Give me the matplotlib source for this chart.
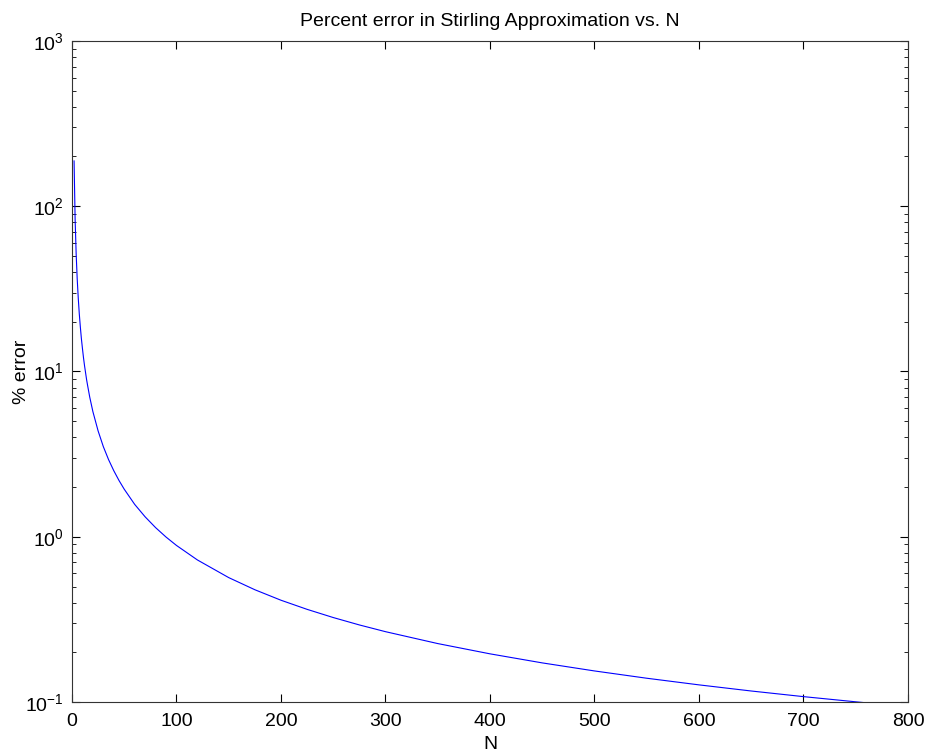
#!/usr/bin/env python3
"""Percent error of the Stirling approximation against N (log y axis)."""
import matplotlib
matplotlib.use("Agg")
import matplotlib.pyplot as plt
from matplotlib.ticker import LogLocator, NullFormatter

# values
N_VALUES = [2, 3, 4, 5, 6, 7, 8, 9, 10, 11, 12, 14, 15, 17, 20, 25, 30, 35,
            40, 45, 50, 60, 70, 80, 90, 100, 120, 150, 175, 200, 225, 250,
            275, 300, 350, 400, 450, 500, 550, 600, 650, 700, 750, 800]
PCT_ERROR = [188.0, 83.5, 51.4, 36.3, 27.8, 22.3, 18.6, 15.8, 13.8, 12.14,
             10.85, 8.91, 8.2, 6.99, 5.72, 4.37, 3.51, 2.93, 2.51, 2.19,
             1.94, 1.57, 1.32, 1.136, 0.996, 0.886, 0.724, 0.566, 0.478,
             0.413, 0.3637, 0.3245, 0.2927, 0.2665, 0.2258, 0.1957, 0.1725,
             0.1542, 0.1393, 0.127, 0.1166, 0.1078, 0.1003, 0.0936]

X_TICKS = [0, 100, 200, 300, 400, 500, 600, 700, 800]

plt.rcParams["font.family"] = ["Liberation Sans", "DejaVu Sans"]

fig = plt.figure(figsize=(9.3, 7.56), dpi=100)
ax = fig.add_axes([0.0774, 0.0714, 0.8989, 0.8744])

ax.semilogy(N_VALUES, PCT_ERROR, color="#0000ff", linewidth=0.8)

ax.set_xlim(0, 800)
ax.set_ylim(0.1, 1000)
ax.set_xticks(X_TICKS)
ax.yaxis.set_major_locator(LogLocator(base=10, numticks=10))
ax.yaxis.set_minor_locator(LogLocator(base=10, subs=range(2, 10), numticks=10))
ax.yaxis.set_minor_formatter(NullFormatter())

ax.tick_params(which="both", direction="in", top=True, right=True,
               labelsize=14, colors="black")
ax.tick_params(axis="x", which="both", pad=8)
ax.tick_params(axis="y", which="both", pad=6)
ax.tick_params(which="major", length=6, width=0.8)
ax.tick_params(which="minor", length=3, width=0.6)
for side in ax.spines.values():
    side.set_linewidth(0.8)
    side.set_color("#333333")

ax.set_title("Percent error in Stirling Approximation vs. N", fontsize=14, pad=11)
ax.set_xlabel("N", fontsize=14, labelpad=4)
ax.set_ylabel("% error", fontsize=14, labelpad=-4)

fig.savefig("out.png", dpi=100)
